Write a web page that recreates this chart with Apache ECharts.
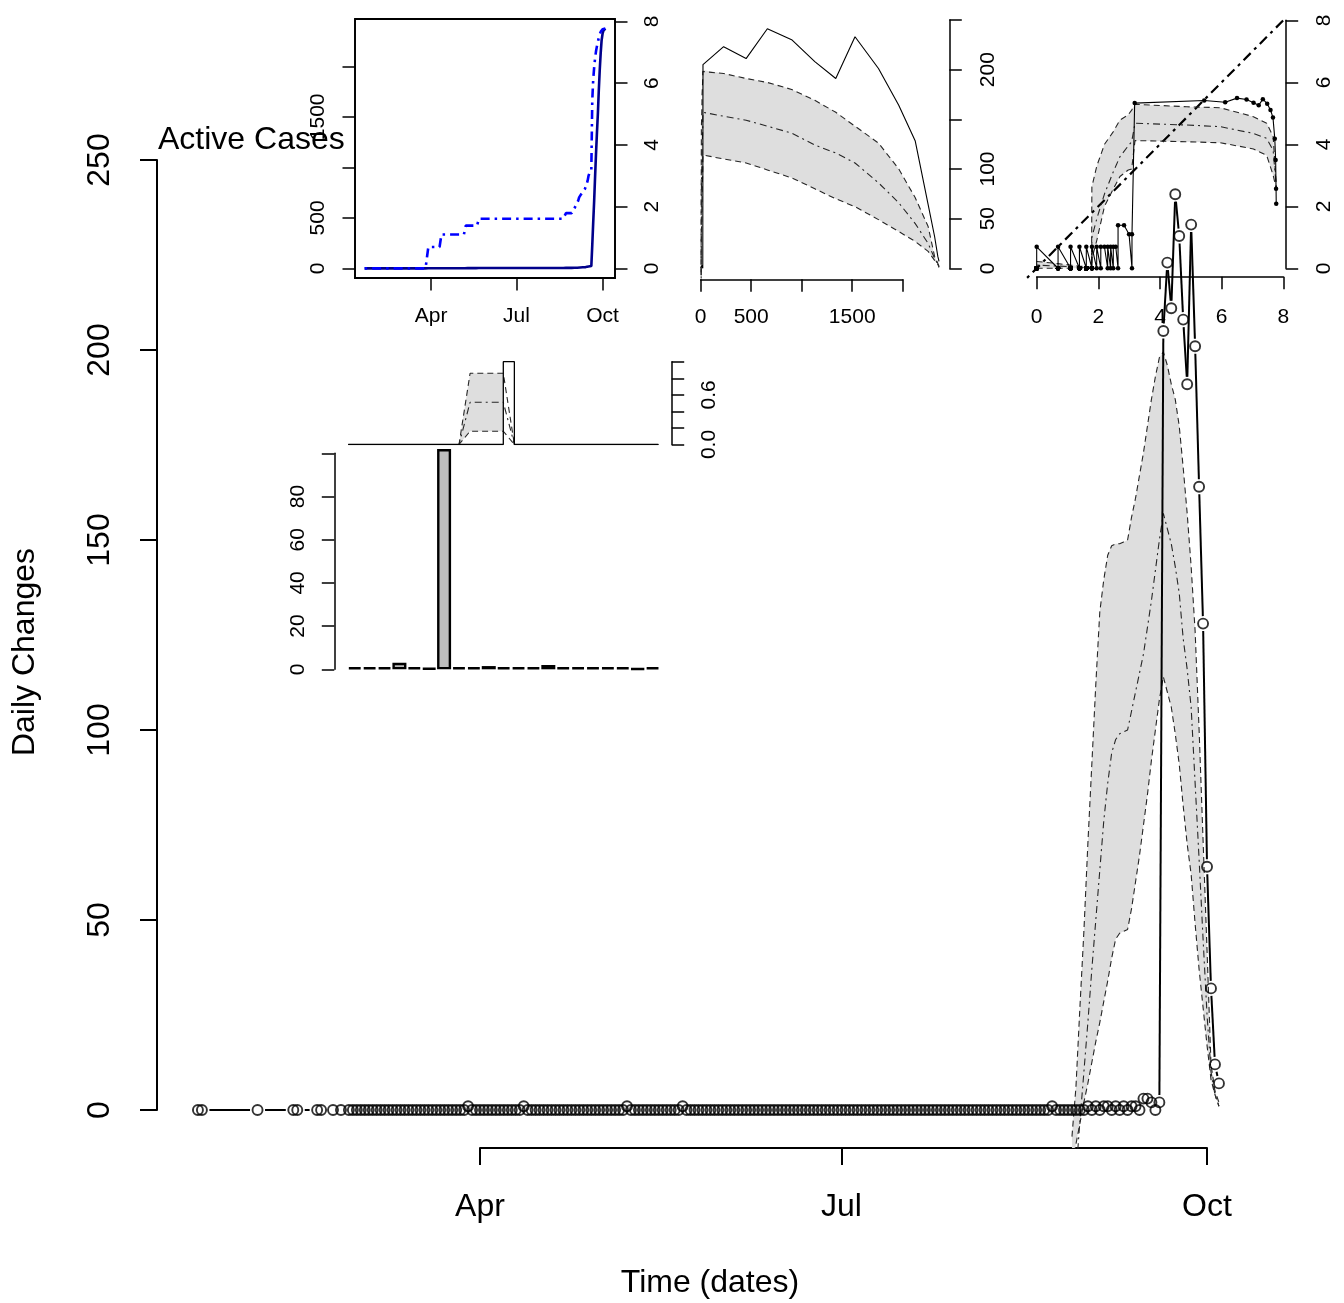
<!DOCTYPE html>
<html>
<head>
<meta charset="utf-8">
<script src="https://cdn.jsdelivr.net/npm/echarts@6.0.0/dist/echarts.min.js"></script>
<style>
html,body{margin:0;padding:0;background:#ffffff;}
#chart{width:1344px;height:1303px;}
</style>
</head>
<body>
<div id="chart"></div>
<script>
// ================= DATA =================
// sparse early observations
const earlyDates  = ['2020-01-21','2020-01-22','2020-02-05','2020-02-14','2020-02-15','2020-02-20','2020-02-21','2020-02-24','2020-02-26'];
const earlyValues = [0,0,0,0,0,0,0,0,0];
// consecutive daily observations from 2020-02-28
const dailyStart = '2020-02-28';
const dailyFeb = [0,0];
const dailyMar = [0,0,0,0,0,0,0,0,0,0,0,0,0,0,0,0,0,0,0,0,0,0,0,0,0,0,0,0,1,0,0];
const dailyApr = [0,0,0,0,0,0,0,0,0,0,0,1,0,0,0,0,0,0,0,0,0,0,0,0,0,0,0,0,0,0];
const dailyMay = [0,0,0,0,0,0,0,1,0,0,0,0,0,0,0,0,0,0,0,0,0,1,0,0,0,0,0,0,0,0,0];
const dailyJun = [0,0,0,0,0,0,0,0,0,0,0,0,0,0,0,0,0,0,0,0,0,0,0,0,0,0,0,0,0,0];
const dailyJul = [0,0,0,0,0,0,0,0,0,0,0,0,0,0,0,0,0,0,0,0,0,0,0,0,0,0,0,0,0,0,0];
const dailyAug = [0,0,0,0,0,0,0,0,0,0,0,0,0,0,0,0,0,0,0,0,0,0,1,0,0,0,0,0,0,0,0];
const dailySep = [1,0,1,0,1,1,0,1,0,1,0,1,1,0,3,3,2,0,2,205,223,211,241,230,208,191,233,201,164,128];
const dailyOct = [64,32,12,7];

// model band (daily changes) from 2020-08-28
const bandStart = '2020-08-28';
const bandUpper = [-7,6,27,47,70,91,112,131,139.5,146,148.5,149,149,149.5,150,156,161,167,173,180,187,193,198,199.5,196,191,187,180,169,157,143,126,100,71,42,12,5,2];
const bandMid   = [-30,-17,-3,10,23,37,50,63,76,86,94,97.5,99,99.5,100,105,110,115,120,127,134,142,150,157,153,149,143,136,124,116,106,86,66,45,25,10,4,1];
const bandLower = [-14,-9,-3.5,2,7,12.5,18,23,28.5,34,40,45,46.5,47,47.5,53,60,67,75,83,92,100,108,114,110,106,99,91,80,70,62,49,37,27,17,8,4,1];

// log-log inset band
const logBandX     = [0,0.69,1.10,1.39,1.61,1.78,1.79,1.95,2.20,2.48,2.70,2.97,3.08,3.19,4.87,5.95,7.03,7.46,7.67,7.78];
const logBandUpper = [0.22,0.15,0.10,0.07,0.05,0.03,2.63,3.3,4.0,4.4,4.78,4.95,5.1,5.29,5.21,5.18,4.89,4.68,4.25,2.53];
const logBandMid   = [0.10,0.07,0.05,0.03,0.02,0.01,1.0,1.6,2.4,3.1,3.6,3.95,4.08,4.68,4.62,4.57,4.35,4.19,3.8,2.53];
const logBandLower = [0,0,0,0,0,0,0.3,0.9,2.0,2.55,2.96,3.17,3.2,4.12,4.08,4.05,3.85,3.64,3.0,2.53];

// probability panel (index 0..28)
const probIndex    = [0,1,2,3,4,5,6,7,8,9,10,11,12,13,14,15,16,17,18,19,20,21,22,23,24,25,26,27,28];
const probUpper    = [0,0,0,0,0,0,0,0,0,0,0,0.86,0.86,0.86,0.86,0,0,0,0,0,0,0,0,0,0,0,0,0,0];
const probMid      = [0,0,0,0,0,0,0,0,0,0,0,0.51,0.51,0.51,0.51,0,0,0,0,0,0,0,0,0,0,0,0,0,0];
const probLower    = [0,0,0,0,0,0,0,0,0,0,0,0.16,0.16,0.16,0.16,0,0,0,0,0,0,0,0,0,0,0,0,0,0];
const probObserved = [0,0,0,0,0,0,0,0,0,0,0,0,0,0,1,0,0,0,0,0,0,0,0,0,0,0,0,0,0];

// bar panel
const barValues = [1,1,1,3,1,0.5,102,1,1,1.5,1,1,1,2,1,1,1,1,1,0.3,1];

// tick labels
const monthTickDates  = ['2020-04-01','2020-07-01','2020-10-01'];
const monthTickLabels = ['Apr','Jul','Oct'];
const cumTicks        = [0,500,1000,1500,2000];
const cumTickLabels   = [0,500,1500];
const logTicks        = [0,2,4,6,8];
const phaseXLabels    = [0,500,1500];
const phaseYLabels    = [0,50,100,200];
const probLabels      = [0,0.6];
const barLabels       = [0,20,40,60,80];

// ================= derived =================
const EPOCH = Date.UTC(2020,0,1);
const dayOf = s => { const p = s.split('-').map(Number); return (Date.UTC(p[0],p[1]-1,p[2]) - EPOCH)/86400000; };
const contValues = [].concat(dailyFeb,dailyMar,dailyApr,dailyMay,dailyJun,dailyJul,dailyAug,dailySep,dailyOct);
const obsDays = earlyDates.map(dayOf).concat(contValues.map((_,i)=>dayOf(dailyStart)+i));
const obsVals = earlyValues.concat(contValues);
const cumIncl = [], cumPrior = [];
let run = 0;
obsVals.forEach(v => { cumPrior.push(run); run += v; cumIncl.push(run); });
const priorByDay = {};
obsDays.forEach((d,i)=>{ priorByDay[d] = cumPrior[i]; });
const bandDays = bandUpper.map((_,i)=>dayOf(bandStart)+i);
const bandCum = bandDays.map(d => priorByDay[d]);
const monthTickDays = monthTickDates.map(dayOf);
const monthName = {}; monthTickDays.forEach((d,i)=>{ monthName[d] = monthTickLabels[i]; });

// ================= helpers =================
const FONT = 'Liberation Sans, Arial, Helvetica, sans-serif';
function hid(gridIndex, min, max, type){
  return {type: type||'value', gridIndex, min, max, show:false, splitLine:{show:false}};
}
function vis(o){
  const ax = {type:'value', gridIndex:o.grid, min:o.min, max:o.max, position:o.pos, offset:o.offset||0,
    splitLine:{show:false},
    axisLine:{show:true, onZero:false, lineStyle:{color:'#000', width:o.lw||1.5}},
    axisTick:{show:true, inside:false, length:o.tick, lineStyle:{color:'#000', width:o.lw||1.5}},
    axisLabel:{show:true, color:'#000', fontSize:o.fs, fontFamily:FONT, margin:o.margin, rotate:o.rotate||0,
      formatter:o.fmt || (v=>String(v))}};
  if (o.interval != null) ax.interval = o.interval;
  if (o.ticks) ax.axisTick.customValues = o.ticks;
  if (o.labels) ax.axisLabel.customValues = o.labels;
  return ax;
}
// polygon clipping to the plot region (Sutherland-Hodgman)
function clipPolygon(poly, x0, y0, x1, y1){
  const ins = [p=>p[0]>=x0, p=>p[0]<=x1, p=>p[1]>=y0, p=>p[1]<=y1];
  const cut = [
    (a,b)=>[x0, a[1]+(b[1]-a[1])*(x0-a[0])/(b[0]-a[0])],
    (a,b)=>[x1, a[1]+(b[1]-a[1])*(x1-a[0])/(b[0]-a[0])],
    (a,b)=>[a[0]+(b[0]-a[0])*(y0-a[1])/(b[1]-a[1]), y0],
    (a,b)=>[a[0]+(b[0]-a[0])*(y1-a[1])/(b[1]-a[1]), y1]];
  let out = poly;
  for (let e=0;e<4;e++){
    const inp = out; out = [];
    for (let i=0;i<inp.length;i++){
      const cur = inp[i], prev = inp[(i+inp.length-1)%inp.length];
      const ci = ins[e](cur), pi = ins[e](prev);
      if (ci){ if(!pi) out.push(cut[e](prev,cur)); out.push(cur); }
      else if (pi) out.push(cut[e](prev,cur));
    }
    if (!out.length) break;
  }
  return out;
}
function band(xi, yi, xs, up, mid, lo){
  const c = {type:'line', xAxisIndex:xi, yAxisIndex:yi, symbol:'none', showSymbol:false, silent:true};
  return [
    {type:'custom', xAxisIndex:xi, yAxisIndex:yi, silent:true, z:1,
     data:xs.map((x,i)=>[x, up[i], lo[i]]), encode:{x:0, y:[1,2]},
     renderItem:function(params, api){
       if (params.dataIndex !== 0) return {type:'group', children:[]};
       const pts = [];
       for (let i=0;i<xs.length;i++) pts.push(api.coord([xs[i], up[i]]));
       for (let i=xs.length-1;i>=0;i--) pts.push(api.coord([xs[i], lo[i]]));
       const cs = params.coordSys;
       const poly = clipPolygon(pts, cs.x, cs.y, cs.x+cs.width, cs.y+cs.height);
       if (poly.length < 3) return {type:'group', children:[]};
       return {type:'polygon', shape:{points:poly}, style:{fill:'#dedede', stroke:null}};
     }},
    Object.assign({}, c, {data:xs.map((x,i)=>[x,up[i]]), lineStyle:{color:'#262626', width:1.1, type:[6,4]}, z:3}),
    Object.assign({}, c, {data:xs.map((x,i)=>[x,mid[i]]), lineStyle:{color:'#262626', width:1.1, type:[2,4,7,4]}, z:3}),
    Object.assign({}, c, {data:xs.map((x,i)=>[x,lo[i]]), lineStyle:{color:'#262626', width:1.1, type:[6,4]}, z:3})
  ];
}
// type="b" style segments (line with gaps around points)
function gapRender(gap, width){
  return function(params, api){
    const a = api.coord([api.value(0), api.value(1)]);
    const b = api.coord([api.value(2), api.value(3)]);
    const dx = b[0]-a[0], dy = b[1]-a[1], L = Math.hypot(dx,dy);
    if (L <= 2*gap) return {type:'group', children:[]};
    const ux = dx/L, uy = dy/L;
    return {type:'line', shape:{x1:a[0]+ux*gap, y1:a[1]+uy*gap, x2:b[0]-ux*gap, y2:b[1]-uy*gap},
      style:{stroke:'#000', lineWidth:width}};
  };
}
const mainSegs = [];
for (let i=1;i<obsDays.length;i++) mainSegs.push([obsDays[i-1], obsVals[i-1], obsDays[i], obsVals[i]]);

// ================= layout =================
const grids = [
  {left:157.1, top:160, width:1102.7, height:988},     // 0 main data
  {left:157, top:160, width:100, height:950},          // 1 main y axis
  {left:480, top:1100, width:727, height:48},          // 2 main x axis
  {left:355, top:19, width:260, height:259, show:true, borderColor:'#000', borderWidth:1.8, backgroundColor:'transparent'}, // 3 inset A
  {left:691.1, top:19.2, width:258.2, height:258.7},   // 4 inset B data
  {left:700.7, top:20, width:202, height:248.3},       // 5 inset B axes
  {left:1027.1, top:17.8, width:258.7, height:260.1},  // 6 inset C data
  {left:1036.7, top:20.3, width:246.6, height:248},    // 7 inset C axes
  {left:348.3, top:361.7, width:310, height:82.8},     // 8 prob panel
  {left:347.3, top:453.3, width:312.7, height:216}     // 9 bar panel
];

const xAxes = [
  hid(0, 9.72, 287.28),
  hid(1, 0, 1),
  vis({grid:2, min:monthTickDays[0], max:monthTickDays[2], pos:'bottom', tick:17, fs:32, margin:43, lw:2,
       ticks:monthTickDays, labels:monthTickDays, fmt:v=>monthName[v]||''}),
  vis({grid:3, min:9.72, max:287.28, pos:'bottom', tick:12.5, fs:21, margin:28, lw:1.5,
       ticks:monthTickDays, labels:monthTickDays, fmt:v=>monthName[v]||''}),
  hid(4, -94.92, 2467.92),
  vis({grid:5, min:0, max:2000, interval:500, pos:'bottom', offset:11, tick:12.5, fs:21, margin:27,
       fmt:v=>phaseXLabels.indexOf(v)>=0?String(v):''}),
  hid(6, -0.311, 8.08),
  vis({grid:7, min:0, max:8, interval:2, pos:'bottom', offset:8.4, tick:12.5, fs:21, margin:30}),
  hid(8, 0, 28),
  {type:'category', gridIndex:9, show:false, data:barValues.map((_,i)=>i), boundaryGap:true, splitLine:{show:false}}
];

const yAxes = [
  hid(0, -10, 250),
  vis({grid:1, min:0, max:250, interval:50, pos:'left', tick:17, fs:32, margin:41, rotate:90, lw:2}),
  hid(2, 0, 1),
  vis({grid:3, min:-94.92, max:2467.92, pos:'left', tick:12.5, fs:21, margin:26.5, rotate:90,
       ticks:cumTicks, labels:cumTickLabels}),
  vis({grid:3, min:-0.3108, max:8.0808, pos:'right', tick:12.5, fs:21, margin:26.5, rotate:90,
       ticks:logTicks, labels:logTicks}),
  hid(4, -9.64, 250.64),
  vis({grid:5, min:0, max:250, interval:50, pos:'right', offset:46.6, tick:12.5, fs:21, margin:28, rotate:90,
       fmt:v=>phaseYLabels.indexOf(v)>=0?String(v):''}),
  hid(6, -0.311, 8.08),
  vis({grid:7, min:0, max:8, interval:2, pos:'right', offset:2.4, tick:12.5, fs:21, margin:28.5, rotate:90}),
  vis({grid:8, min:0, max:1, interval:0.2, pos:'right', offset:13.4, tick:12.5, fs:21, margin:27.5, rotate:90,
       fmt:v=>probLabels.some(p=>Math.abs(p-v)<1e-9)?v.toFixed(1):''}),
  vis({grid:9, min:0, max:100, interval:20, pos:'left', offset:13, tick:12.5, fs:21, margin:25.5, rotate:90,
       fmt:v=>barLabels.indexOf(v)>=0?String(v):''})
];

const series = [];
// ---- main chart ----
series.push(...band(0, 0, bandDays, bandUpper, bandMid, bandLower));
series.push({type:'custom', xAxisIndex:0, yAxisIndex:0, data:mainSegs, encode:{x:[0,2], y:[1,3]},
  renderItem:gapRender(7.5, 2), silent:true, z:4});
series.push({type:'scatter', xAxisIndex:0, yAxisIndex:0, data:obsDays.map((d,i)=>[d,obsVals[i]]),
  symbol:'circle', symbolSize:10, itemStyle:{color:'rgba(0,0,0,0)', borderColor:'#000', borderWidth:1.9}, silent:true, z:5});
// ---- inset A: cumulative & log cumulative ----
series.push({type:'line', xAxisIndex:3, yAxisIndex:3, data:obsDays.map((d,i)=>[d,cumIncl[i]]), symbol:'none',
  lineStyle:{color:'#00008B', width:2.6}, silent:true, z:3});
series.push({type:'line', xAxisIndex:3, yAxisIndex:4, data:obsDays.map((d,i)=>[d,Math.log(cumIncl[i]+1)]), symbol:'none',
  lineStyle:{color:'#0000FF', width:2.6, type:[2.5,5,9,5]}, silent:true, z:3});
// ---- inset B: daily vs cumulative ----
series.push(...band(4, 5, bandCum, bandUpper, bandMid, bandLower));
series.push({type:'line', xAxisIndex:4, yAxisIndex:5, data:obsDays.map((d,i)=>[cumPrior[i],obsVals[i]]), symbol:'none',
  lineStyle:{color:'#000', width:1.1}, silent:true, z:4});
// ---- inset C: log-log ----
series.push({type:'line', xAxisIndex:6, yAxisIndex:7, data:[[-0.311,-0.311],[8.08,8.08]], symbol:'none',
  lineStyle:{color:'#000', width:2.2, type:[3,5,10,5]}, silent:true, z:2});
series.push(...band(6, 7, logBandX, logBandUpper, logBandMid, logBandLower));
series.push({type:'line', xAxisIndex:6, yAxisIndex:7,
  data:obsDays.map((d,i)=>[Math.log(cumPrior[i]+1), Math.log(obsVals[i]+1)]),
  symbol:'circle', symbolSize:4.5, showSymbol:true, itemStyle:{color:'#000'},
  lineStyle:{color:'#000', width:1.1}, silent:true, z:4});
// ---- probability panel ----
{
  const c = {type:'line', xAxisIndex:8, yAxisIndex:9, symbol:'none', silent:true};
  const pb = band(8, 9, probIndex, probUpper, probMid, probLower);
  series.push(pb[0]);
  series.push({type:'custom', xAxisIndex:8, yAxisIndex:9,
    data:probIndex.filter((k,i)=>probObserved[i]>0).map(k=>[k, probObserved[k]]), encode:{x:0, y:1},
    renderItem:function(p, api){
      const a = api.coord([api.value(0), 0]);
      const b = api.coord([api.value(0)+1, api.value(1)]);
      return {type:'rect', shape:{x:a[0], y:b[1], width:b[0]-a[0], height:a[1]-b[1]}, style:{fill:'#fff', stroke:null}};
    }, silent:true, z:2});
  series.push(pb[1], pb[2], pb[3]);
  series.push(Object.assign({}, c, {step:'end', data:probIndex.map((k,i)=>[k,probObserved[i]]), lineStyle:{color:'#000', width:1.3}, z:4}));
}
// ---- bar panel ----
series.push({type:'bar', xAxisIndex:9, yAxisIndex:10, data:barValues, barCategoryGap:'6%', clip:false,
  itemStyle:{color:'#bebebe', borderColor:'#000', borderWidth:2.4}, silent:true, z:2});

const option = {
  animation:false,
  backgroundColor:'#ffffff',
  textStyle:{fontFamily:FONT},
  grid:grids, xAxis:xAxes, yAxis:yAxes, series:series,
  graphic:[
    {type:'text', x:158, y:140, style:{text:'Active Cases', fontSize:32, fontFamily:FONT, fill:'#000', align:'left', verticalAlign:'middle'}},
    {type:'text', x:25, y:652, rotation:Math.PI/2, style:{text:'Daily Changes', fontSize:32, fontFamily:FONT, fill:'#000', align:'center', verticalAlign:'middle'}},
    {type:'text', x:710, y:1283, style:{text:'Time (dates)', fontSize:32, fontFamily:FONT, fill:'#000', align:'center', verticalAlign:'middle'}}
  ]
};
const chart = echarts.init(document.getElementById('chart'), null, {renderer:'canvas'});
chart.setOption(option);
</script>
</body>
</html>
